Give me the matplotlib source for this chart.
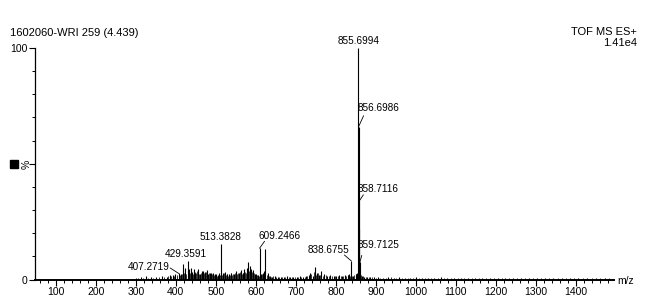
import numpy as np
import matplotlib
matplotlib.use("Agg")
import matplotlib.pyplot as plt
from matplotlib.ticker import MultipleLocator, FixedLocator

plt.rcParams['font.family'] = ['Liberation Sans', 'DejaVu Sans']

# spectrum peaks (m/z, relative intensity %)
peak_mz = [300, 312, 325, 338, 351, 365, 377, 385, 393, 399, 407.27, 413, 418,
           423, 429.36, 433, 437, 441, 445, 449, 455, 461, 465, 468, 473, 477,
           481, 485, 489, 493, 497, 501, 505, 509, 513.38, 517, 523, 527, 533,
           539, 545, 551, 557, 563, 567, 571, 577, 580, 585, 589, 593, 597,
           601, 605, 609.25, 613, 617, 621, 624, 630, 635, 641, 648, 655, 663,
           670, 678, 686, 694, 702, 710, 718, 726, 733, 736, 742, 748, 753,
           758, 763, 771, 778, 786, 794, 801, 808, 815, 822, 829, 833,
           838.68, 843, 849, 853, 855.70, 856.70, 857.70, 858.71, 859.71,
           860.70, 865, 871, 878, 886, 895, 905, 918, 931, 944, 958, 972, 986,
           1000, 1015, 1030, 1046, 1062, 1078, 1095, 1112, 1130, 1148, 1166,
           1185, 1204, 1223, 1242, 1262, 1282, 1302, 1322, 1343, 1364, 1385,
           1406, 1428, 1450, 1472]
peak_int = [0.8, 1.0, 1.3, 0.9, 1.2, 1.5, 1.1, 2.0, 1.8, 2.4, 2.6, 2.2, 6.5,
            5.0, 8.0, 4.5, 5.0, 3.2, 4.5, 3.0, 4.5, 2.5, 3.8, 3.5, 3.2, 4.2,
            2.5, 3.0, 2.6, 3.0, 2.2, 2.5, 2.0, 2.8, 15.2, 3.0, 3.2, 2.5, 2.2,
            3.0, 2.4, 3.5, 2.8, 4.0, 3.0, 4.5, 5.0, 7.5, 6.0, 4.5, 4.0, 2.5,
            2.2, 2.0, 13.5, 2.5, 3.0, 3.5, 13.0, 3.0, 1.5, 1.2, 1.5, 1.0, 1.2,
            1.0, 1.3, 1.0, 1.2, 1.0, 1.4, 1.2, 1.5, 2.0, 3.0, 1.6, 5.6, 3.0,
            2.0, 3.5, 2.5, 1.6, 1.8, 1.5, 1.7, 2.0, 1.6, 1.8, 2.0, 2.2,
            8.0, 1.5, 2.5, 3.0, 100.0, 66.0, 22.0, 34.0, 7.4,
            3.0, 1.5, 1.2, 1.0, 1.2, 1.0, 0.9, 0.8, 1.0, 0.7, 0.9, 0.8, 0.7,
            0.9, 0.8, 0.7, 0.8, 0.9, 0.7, 0.8, 0.7, 0.8, 0.6, 0.7,
            0.8, 0.6, 0.7, 0.6, 0.7, 0.6, 0.7, 0.6, 0.6, 0.7, 0.6,
            0.6, 0.5, 0.6, 0.5]

# low-level chemical noise between the main peaks (m/z, %)
grass_mz = [306, 318, 331, 344, 358, 371, 381, 389, 396, 402, 404, 410, 415,
            420, 426, 431, 435, 439, 443, 447, 451, 453, 458, 463, 467, 471,
            475, 479, 483, 487, 491, 495, 499, 503, 507, 511, 515, 519, 521,
            525, 529, 531, 535, 537, 541, 543, 547, 549, 553, 555, 559, 561,
            565, 569, 573, 575, 579, 583, 587, 591, 595, 599, 603, 607, 611,
            615, 619, 627, 632, 638, 644, 651, 659, 666, 674, 682, 690, 698,
            706, 714, 722, 729, 739, 745, 750, 756, 761, 767, 775, 782, 790,
            797, 805, 812, 818, 825, 831, 836, 841, 846, 851, 862, 868, 874,
            882, 890, 899, 911, 925, 938, 951, 965, 979, 993, 1008, 1023,
            1038, 1054, 1070, 1087, 1104, 1121, 1139, 1157, 1176, 1195, 1214,
            1233, 1252, 1272, 1292, 1312, 1333, 1354, 1375, 1396, 1417, 1439,
            1461, 1483]
grass_int = [0.6, 0.7, 0.8, 0.7, 0.9, 1.0, 1.3, 1.6, 1.4, 1.9, 1.5, 2.0, 2.4,
             3.0, 2.5, 3.6, 2.8, 4.0, 2.2, 3.3, 2.6, 3.8, 2.4, 3.0, 2.0, 2.6,
             3.4, 2.2, 2.6, 2.0, 2.4, 1.8, 2.0, 1.7, 2.2, 1.9, 2.1, 1.6, 2.6,
             1.9, 2.3, 1.7, 2.0, 2.6, 1.8, 2.2, 2.9, 1.9, 2.4, 3.0, 2.0, 3.2,
             2.4, 2.7, 3.4, 2.6, 4.5, 3.6, 4.0, 3.2, 2.6, 2.0, 1.8, 1.6, 2.0,
             2.4, 2.2, 2.0, 1.6, 1.2, 1.3, 1.0, 1.1, 0.9, 1.1, 0.9, 1.0, 0.9,
             1.1, 1.0, 1.2, 1.4, 2.2, 3.2, 2.0, 2.6, 1.8, 1.7, 1.9, 1.4, 1.5,
             1.3, 1.5, 1.4, 1.6, 1.5, 1.8, 1.6, 1.4, 1.8, 2.2, 1.8, 1.3, 1.1,
             1.0, 0.9, 0.8, 0.8, 0.7, 0.9, 0.7, 0.8, 0.7, 0.8, 0.7, 0.6,
             0.8, 0.7, 0.6, 0.7, 0.6, 0.7, 0.6, 0.7, 0.6, 0.6, 0.7,
             0.6, 0.5, 0.6, 0.6, 0.5, 0.6, 0.5, 0.6, 0.5, 0.5, 0.6,
             0.5, 0.5]

# labelled peaks
label_text = ["855.6994", "856.6986", "858.7116", "859.7125", "838.6755",
              "513.3828", "609.2466", "429.3591", "407.2719"]

xticks = list(range(100, 1500, 100))

W, H, DPI = 655, 298, 100
fig = plt.figure(figsize=(W / DPI, H / DPI), dpi=DPI)
fig.patch.set_facecolor('white')

# axes box in pixels
x0, x1, ytop, ybot = 35, 614, 48, 279.5
ax = fig.add_axes([x0 / W, (H - ybot) / H, (x1 - x0) / W, (ybot - ytop) / H])
ax.set_xlim(48, 1495)
ax.set_ylim(0, 100)

ax.vlines(grass_mz, 0, grass_int, color='#333333', lw=0.7)
ax.vlines(peak_mz, 0, peak_int, color='black', lw=0.8)

for s in ['top', 'right']:
    ax.spines[s].set_visible(False)
ax.spines['bottom'].set_linewidth(1.4)
ax.spines['left'].set_linewidth(0.9)

ax.xaxis.set_major_locator(FixedLocator(xticks))
ax.xaxis.set_minor_locator(MultipleLocator(20))
ax.set_xticklabels([str(t) for t in xticks])
ax.yaxis.set_major_locator(FixedLocator([0, 50, 100]))
ax.yaxis.set_minor_locator(MultipleLocator(10))
ax.set_yticklabels(['0', '', '100'])
ax.tick_params(axis='both', which='major', direction='out', length=4, width=0.8,
               labelsize=7.5, pad=1.5)
ax.tick_params(axis='both', which='minor', direction='out', length=2.5, width=0.7)

px = 72.0 / DPI
# text offset (px right, px up) from peak top, alignment, leader end offset
label_pos = [((0, 2), 'center', 'bottom', None),
             ((-0.6, 19), 'left', 'center', (5, 11)),
             ((-1.4, 12), 'left', 'center', (4, 6)),
             ((-2, 17), 'left', 'center', (2, 7)),
             ((-23, 11), 'center', 'center', (-7, 6)),
             ((-1, 2), 'center', 'bottom', None),
             ((20, 12), 'center', 'center', (5, 7)),
             ((-1.6, 7), 'center', 'center', None),
             ((-29.6, 6.5), 'center', 'center', (-8.6, 5.5))]

for lab, (off, ha, va, lead) in zip(label_text, label_pos):
    mz = float(lab)
    i = int(np.argmin([abs(m - mz) for m in peak_mz]))
    xy = (peak_mz[i], peak_int[i])
    ax.annotate(lab, xy=xy, xytext=(off[0] * px, off[1] * px),
                textcoords='offset points', ha=ha, va=va, fontsize=7.2,
                annotation_clip=False)
    if lead is not None:
        ax.annotate('', xy=xy, xytext=(lead[0] * px, lead[1] * px),
                    textcoords='offset points', annotation_clip=False,
                    arrowprops=dict(arrowstyle='-', lw=0.6, color='black',
                                    shrinkA=0, shrinkB=0))

# header texts and axis decorations
fig.text(10 / W, 1 - 33 / H, "1602060-WRI 259 (4.439)", ha='left', va='center',
         fontsize=8)
fig.text(637 / W, 1 - 32 / H, "TOF MS ES+", ha='right', va='center', fontsize=8)
fig.text(637 / W, 1 - 43 / H, "1.41e4", ha='right', va='center', fontsize=8)
fig.text(617 / W, 1 - 281 / H, "m/z", ha='left', va='center', fontsize=7.5)
fig.text(27 / W, 1 - 164 / H, "%", ha='center', va='center', fontsize=7.5,
         rotation=90)
fig.patches.append(plt.Rectangle((10 / W, 1 - 168 / H), 8 / W, 8 / H,
                                 transform=fig.transFigure, color='black'))

fig.savefig('out.png', dpi=DPI)
